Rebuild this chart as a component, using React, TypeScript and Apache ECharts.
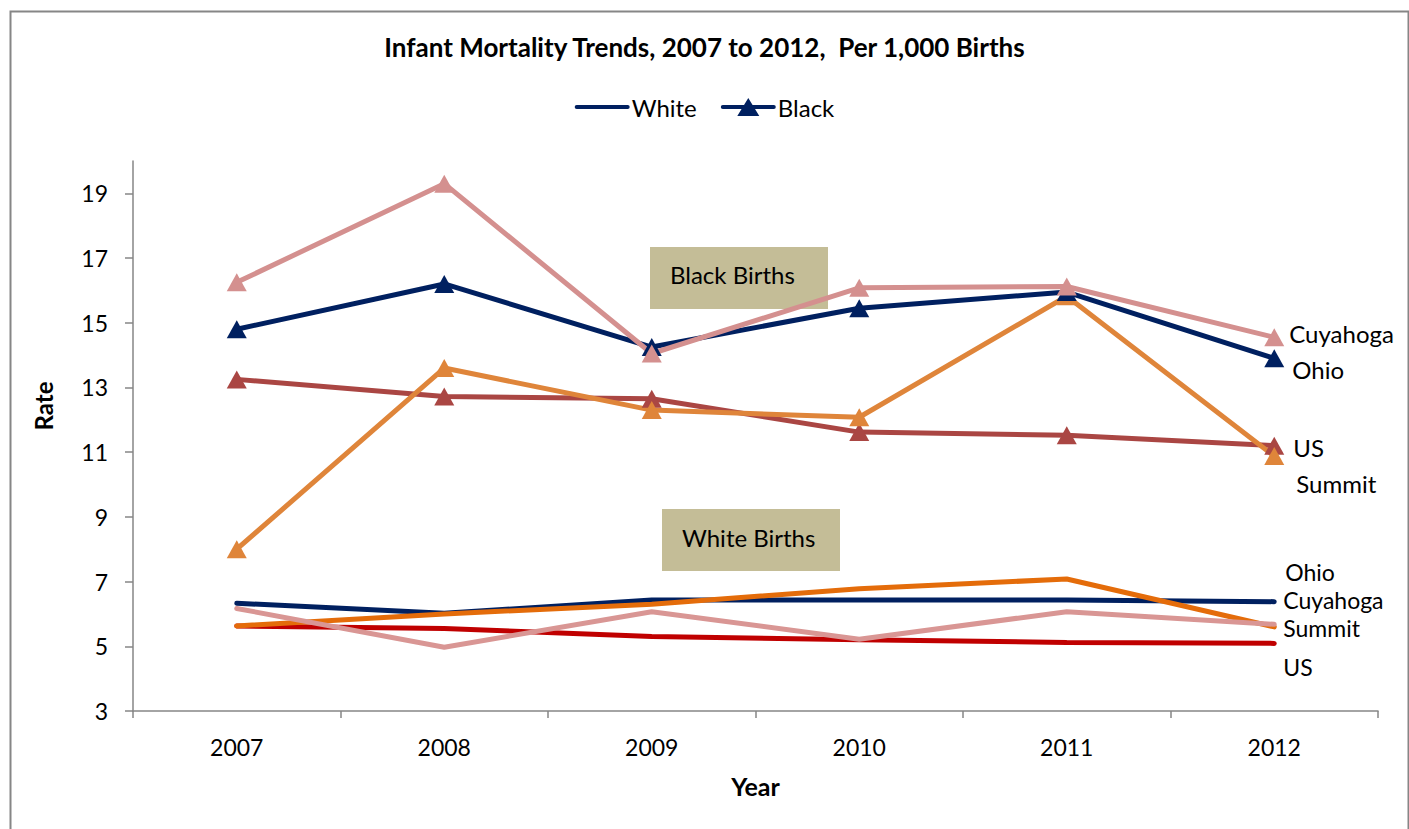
import React, { useEffect, useRef } from "react";
import * as echarts from "echarts";

// Infant mortality per 1,000 births, 2007–2012
const years = ["2007", "2008", "2009", "2010", "2011", "2012"];

const blackCuyahoga = [16.25, 19.3, 14.05, 16.08, 16.12, 14.55];
const blackOhio = [14.8, 16.2, 14.25, 15.45, 15.95, 13.9];
const blackUS = [13.25, 12.72, 12.65, 11.62, 11.52, 11.2];
const blackSummit = [8.0, 13.6, 12.3, 12.08, 15.82, 10.88];

const whiteOhio = [6.33, 6.02, 6.43, 6.43, 6.43, 6.38];
const whiteSummit = [5.63, 6.0, 6.3, 6.78, 7.08, 5.6];
const whiteCuyahoga = [6.17, 4.97, 6.07, 5.22, 6.07, 5.68];
const whiteUS = [5.63, 5.55, 5.3, 5.2, 5.12, 5.09];

const yTicks = [3, 5, 7, 9, 11, 13, 15, 17, 19];

const FONT = "Lato, 'Open Sans', sans-serif";
const NAVY = "#002060";
const LABEL_SIZE = 23;

// legend glyphs: a thick line, and a thick line with a triangle marker
const ICON_LINE = "path://M0,0L0.01,0L0,0.01Z M0,18L0.01,18L0,17.99Z M2,7L53,7Q55,7 55,9Q55,11 53,11L2,11Q0,11 0,9Q0,7 2,7Z";
const ICON_TRIANGLE =
  "path://M2,7L53,7Q55,7 55,9Q55,11 53,11L2,11Q0,11 0,9Q0,7 2,7Z M27.5,0L38.5,18L16.5,18Z";

function endLabel(text: string, offset: number[], size: number) {
  return {
    show: true,
    formatter: text,
    distance: 0,
    offset,
    color: "#000",
    fontFamily: FONT,
    fontSize: size,
    lineHeight: size,
  };
}

function blackSeries(name: string, data: number[], color: string, offset: number[]) {
  return {
    name,
    type: "line",
    data,
    symbol: "triangle",
    symbolSize: [20, 18],
    lineStyle: { color, width: 5 },
    itemStyle: { color },
    endLabel: endLabel(name.replace("Black ", ""), offset, 24),
  };
}

function whiteSeries(name: string, data: number[], color: string, offset: number[]) {
  return {
    name,
    type: "line",
    data,
    symbol: "none",
    lineStyle: { color, width: 5, cap: "round" },
    itemStyle: { color },
    endLabel: endLabel(name.replace("White ", ""), offset, 23),
  };
}

export default function App() {
  const ref = useRef<HTMLDivElement>(null);

  useEffect(() => {
    if (!ref.current) return;
    const chart = echarts.init(ref.current, null, { renderer: "svg" });
    chart.setOption({
      animation: false,
      textStyle: { fontFamily: FONT },
      title: {
        text: "Infant Mortality Trends, 2007 to 2012,  Per 1,000 Births",
        left: "center",
        top: 34,
        padding: 0,
        textStyle: { fontFamily: FONT, fontSize: 26, fontWeight: "bold", color: "#000" },
      },
      legend: {
        data: [
          { name: "White", icon: ICON_LINE },
          { name: "Black", icon: ICON_TRIANGLE },
        ],
        top: 95,
        left: "center",
        padding: 0,
        itemWidth: 55,
        itemHeight: 18,
        itemGap: 24,
        textStyle: { fontFamily: FONT, fontSize: 24, color: "#000", padding: [0, 0, 0, -3] },
      },
      grid: { left: 133, right: 31, top: 161, bottom: 118, containLabel: false },
      xAxis: {
        type: "category",
        data: years,
        boundaryGap: true,
        name: "Year",
        nameLocation: "middle",
        nameGap: 62,
        nameTextStyle: { fontFamily: FONT, fontSize: 25, fontWeight: "bold", color: "#000" },
        axisLine: { lineStyle: { color: "#868686", width: 1.5 } },
        axisTick: { show: true, length: 7, lineStyle: { color: "#868686", width: 1.5 } },
        axisLabel: { margin: 24, fontFamily: FONT, fontSize: LABEL_SIZE, color: "#000" },
        splitLine: { show: false },
      },
      yAxis: {
        type: "value",
        min: 3,
        max: 20,
        interval: 2,
        axisLine: { show: true, lineStyle: { color: "#868686", width: 1.5 } },
        axisTick: {
          show: true,
          length: 8,
          customValues: yTicks,
          lineStyle: { color: "#868686", width: 1.5 },
        },
        axisLabel: {
          margin: 25,
          customValues: yTicks,
          fontFamily: FONT,
          fontSize: LABEL_SIZE,
          color: "#000",
        },
        splitLine: { show: false },
      },
      graphic: [
        {
          type: "rect",
          left: 8,
          top: 9,
          shape: { width: 1398, height: 840 },
          style: { fill: "none", stroke: "#868686", lineWidth: 2 },
          z: -10,
          silent: true,
        },
        {
          type: "text",
          x: 43,
          y: 406,
          rotation: Math.PI / 2,
          style: {
            text: "Rate",
            fontFamily: FONT,
            fontSize: 24,
            fontWeight: "bold",
            fill: "#000",
            align: "center",
            verticalAlign: "middle",
          },
        },
        {
          type: "group",
          x: 650,
          y: 247,
          children: [
            { type: "rect", shape: { width: 178, height: 62 }, style: { fill: "#C4BD97" } },
            {
              type: "text",
              x: 20,
              y: 27,
              style: {
                text: "Black Births",
                fontFamily: FONT,
                fontSize: 24,
                fill: "#000",
                verticalAlign: "middle",
              },
            },
          ],
          z: 10,
        },
        {
          type: "group",
          x: 662,
          y: 509,
          children: [
            { type: "rect", shape: { width: 178, height: 62 }, style: { fill: "#C4BD97" } },
            {
              type: "text",
              x: 20,
              y: 28,
              style: {
                text: "White Births",
                fontFamily: FONT,
                fontSize: 24,
                fill: "#000",
                verticalAlign: "middle",
              },
            },
          ],
          z: 10,
        },
      ],
      series: [
        // legend entries
        { name: "White", type: "line", data: [], symbol: "none", lineStyle: { color: NAVY, width: 5 }, itemStyle: { color: NAVY } },
        { name: "Black", type: "line", data: [], symbol: "triangle", symbolSize: [20, 18], lineStyle: { color: NAVY, width: 5 }, itemStyle: { color: NAVY } },

        whiteSeries("White US", whiteUS, "#C00000", [9, 24]),
        whiteSeries("White Ohio", whiteOhio, NAVY, [11, -30]),
        whiteSeries("White Summit", whiteSummit, "#E46C0A", [9, 1]),
        whiteSeries("White Cuyahoga", whiteCuyahoga, "#D99694", [9, -24]),

        blackSeries("Black US", blackUS, "#AA4643", [19, 2]),
        blackSeries("Black Summit", blackSummit, "#DF853A", [22, 27]),
        blackSeries("Black Ohio", blackOhio, NAVY, [18, 11]),
        blackSeries("Black Cuyahoga", blackCuyahoga, "#D4908F", [15, -4]),
      ],
    });
    return () => chart.dispose();
  }, []);

  return (
    <div
      ref={ref}
      style={{ position: "fixed", left: 0, top: 0, width: 1409, height: 829, background: "#fff" }}
    />
  );
}
